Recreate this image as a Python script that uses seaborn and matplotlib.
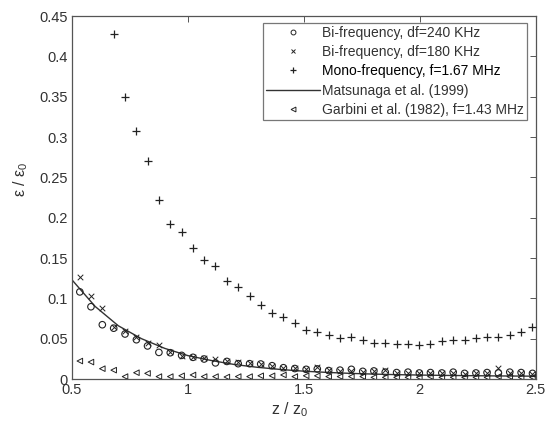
import matplotlib
matplotlib.use("Agg")
import matplotlib.pyplot as plt
import seaborn as sns
import pandas as pd
from matplotlib.lines import Line2D

# ---------------- data ----------------
x_grid = [0.534, 0.582, 0.631, 0.680, 0.729, 0.778, 0.826, 0.875, 0.924, 0.973,
          1.022, 1.070, 1.119, 1.168, 1.217, 1.266, 1.314, 1.363, 1.412, 1.461,
          1.510, 1.558, 1.607, 1.656, 1.705, 1.754, 1.802, 1.851, 1.900, 1.949,
          1.998, 2.046, 2.095, 2.144, 2.193, 2.242, 2.290, 2.339, 2.388, 2.437, 2.486]

bi240 = [0.108, 0.0896, 0.0673, 0.063, 0.0558, 0.0487, 0.041, 0.033, 0.0326, 0.0293,
         0.0269, 0.0248, 0.020, 0.0218, 0.019, 0.019, 0.0186, 0.0165, 0.014, 0.013,
         0.012, 0.0125, 0.0105, 0.011, 0.012, 0.0095, 0.010, 0.0085, 0.008, 0.0085,
         0.0075, 0.008, 0.0075, 0.0085, 0.007, 0.0075, 0.008, 0.0075, 0.0085, 0.008, 0.007]

bi180 = [0.126, 0.1025, 0.0884, 0.064, 0.059, 0.0524, 0.045, 0.042, 0.033, 0.0285,
         0.0277, 0.0264, 0.0248, 0.0227, 0.021, 0.0195, 0.018, 0.016, 0.014, 0.0135,
         0.013, 0.0153, 0.011, 0.010, 0.0105, 0.009, 0.0095, 0.011, 0.008, 0.008,
         0.007, 0.0075, 0.007, 0.008, 0.0065, 0.007, 0.0075, 0.014, 0.008, 0.0075, 0.0065]

x_mono = [0.680, 0.729, 0.778, 0.826, 0.875, 0.924, 0.973, 1.022, 1.070, 1.119,
          1.168, 1.217, 1.266, 1.314, 1.363, 1.412, 1.461, 1.510, 1.558, 1.607,
          1.656, 1.705, 1.754, 1.802, 1.851, 1.900, 1.949, 1.998, 2.046, 2.095,
          2.144, 2.193, 2.242, 2.290, 2.339, 2.388, 2.437, 2.486]
mono = [0.428, 0.350, 0.307, 0.270, 0.222, 0.192, 0.182, 0.163, 0.148, 0.140,
        0.122, 0.114, 0.103, 0.092, 0.082, 0.0765, 0.070, 0.061, 0.0587, 0.054,
        0.051, 0.0517, 0.0483, 0.045, 0.045, 0.0434, 0.043, 0.0417, 0.044, 0.0467,
        0.0483, 0.0483, 0.051, 0.0517, 0.0524, 0.0545, 0.0587, 0.064]

x_mats = [0.5, 0.6, 0.7, 0.8, 0.9, 1.0, 1.1, 1.2, 1.3, 1.4, 1.5,
          1.6, 1.7, 1.8, 1.9, 2.0, 2.1, 2.2, 2.3, 2.4, 2.5]
mats = [0.123, 0.090, 0.066, 0.050, 0.038, 0.029, 0.023, 0.018, 0.0145, 0.0118, 0.0097,
        0.0082, 0.0070, 0.0061, 0.0054, 0.0049, 0.0045, 0.0042, 0.0039, 0.0037, 0.0035]

garbini = [0.0223, 0.021, 0.0128, 0.011, 0.003, 0.0078, 0.007, 0.003, 0.003, 0.004,
           0.005, 0.003, 0.003, 0.0025, 0.003, 0.003, 0.004, 0.004, 0.005, 0.003,
           0.004, 0.004, 0.003, 0.003, 0.003, 0.003, 0.002, 0.002, 0.002, 0.002,
           0.002, 0.003, 0.002, 0.002, 0.002, 0.002, 0.002, 0.003, 0.003, 0.002, 0.002]

labels = ["Bi-frequency, df=240 KHz", "Bi-frequency, df=180 KHz",
          "Mono-frequency, f=1.67 MHz", "Matsunaga et al. (1999)",
          "Garbini et al. (1982), f=1.43 MHz"]

x_ticks = [0.5, 1.0, 1.5, 2.0, 2.5]
x_ticklabels = ["0.5", "1", "1.5", "2", "2.5"]
y_ticks = [0, 0.05, 0.1, 0.15, 0.2, 0.25, 0.3, 0.35, 0.4, 0.45]
y_ticklabels = ["0", "0.05", "0.1", "0.15", "0.2", "0.25", "0.3", "0.35", "0.4", "0.45"]

# ---------------- style ----------------
sns.set_theme(style="white")
plt.rcParams["font.family"] = ["Liberation Sans", "DejaVu Sans"]
plt.rcParams["mathtext.fontset"] = "custom"
plt.rcParams["mathtext.rm"] = "Liberation Sans"
plt.rcParams["mathtext.it"] = "Liberation Sans:italic"
plt.rcParams["mathtext.default"] = "regular"

txt = "#333333"
axc = "#555555"

fig = plt.figure(figsize=(5.45, 4.23), dpi=100)
ax = fig.add_axes([0.132, 0.104, 0.851, 0.858])

df_grid = pd.DataFrame({"x": x_grid, "b240": bi240, "b180": bi180, "g": garbini})
df_mono = pd.DataFrame({"x": x_mono, "y": mono})
df_mats = pd.DataFrame({"x": x_mats, "y": mats})

mk = "#222222"
sns.lineplot(data=df_mats, x="x", y="y", ax=ax, color="#333333", lw=1.0, zorder=2)
sns.scatterplot(data=df_grid, x="x", y="g", ax=ax, marker="<", s=16,
                facecolors="none", edgecolor=mk, linewidth=0.7, zorder=3)
sns.scatterplot(data=df_grid, x="x", y="b180", ax=ax, marker="x", s=16,
                color=mk, linewidth=0.7, zorder=3)
sns.scatterplot(data=df_grid, x="x", y="b240", ax=ax, marker="o", s=22,
                facecolors="none", edgecolor=mk, linewidth=0.8, zorder=4)
sns.scatterplot(data=df_mono, x="x", y="y", ax=ax, marker="+", s=36,
                color=mk, linewidth=0.9, zorder=4)

ax.set_xlim(0.5, 2.5)
ax.set_ylim(0, 0.45)
ax.set_xticks(x_ticks)
ax.set_xticklabels(x_ticklabels)
ax.set_yticks(y_ticks)
ax.set_yticklabels(y_ticklabels)
ax.tick_params(direction="in", top=True, right=True, length=4, width=0.7,
               colors=axc, labelcolor=txt, labelsize=10.5, pad=3)
for sp in ax.spines.values():
    sp.set_visible(True)
    sp.set_color(axc)
    sp.set_linewidth(0.9)

ax.set_xlabel("z / z$_0$", fontsize=11.5, color=txt)
ax.set_ylabel("ε / ε$_0$", fontsize=11.5, color=txt)
ax.xaxis.set_label_coords(0.47, -0.06)
ax.yaxis.set_label_coords(-0.09, 0.55)

handles = [
    Line2D([], [], ls="none", marker="o", ms=3.5, mfc="none", mec=mk, mew=0.7),
    Line2D([], [], ls="none", marker="x", ms=3.5, color=mk, mew=0.7),
    Line2D([], [], ls="none", marker="+", ms=5, color=mk, mew=0.9),
    Line2D([], [], color="#333333", lw=1.0),
    Line2D([], [], ls="none", marker="<", ms=3.5, mfc="none", mec=mk, mew=0.7),
]
leg = ax.legend(handles, labels, loc="upper right", bbox_to_anchor=(0.981, 0.981),
                fontsize=10, frameon=True, fancybox=False, borderpad=0.2,
                handlelength=3.9, handletextpad=0.15, labelspacing=0.38,
                borderaxespad=0.0)
leg.get_frame().set_edgecolor(axc)
leg.get_frame().set_linewidth(0.9)
for t in leg.get_texts():
    t.set_color(txt)
leg.get_texts()[2].set_color("#000000")

fig.savefig("out.png", dpi=100, facecolor="white")
